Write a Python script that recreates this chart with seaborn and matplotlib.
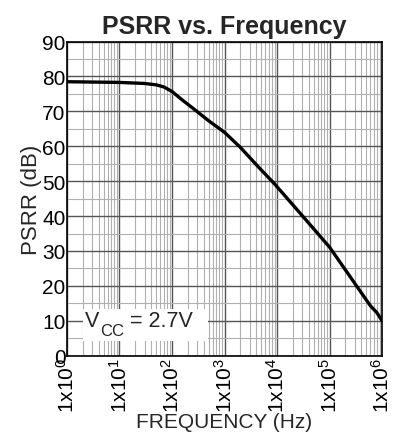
import matplotlib
matplotlib.use("Agg")
import matplotlib.pyplot as plt
import seaborn as sns
import numpy as np
import pandas as pd
from matplotlib.ticker import LogLocator, MultipleLocator

freq_hz = [1, 10, 30, 50, 70, 100, 150, 260, 500, 1000, 2000, 4800, 9000,
           32000, 100000, 300000, 600000, 800000, 1000000]
psrr_db = [78.5, 78.3, 78.0, 77.6, 77.0, 75.7, 73.5, 70.7, 67.3, 64.0, 59.7,
           53.5, 49.2, 39.7, 31.1, 20.8, 14.3, 12.3, 10.0]
x_tick_exponents = [0, 1, 2, 3, 4, 5, 6]
y_ticks = [0, 10, 20, 30, 40, 50, 60, 70, 80, 90]

sns.set_theme(style="white")
plt.rcParams['font.family'] = ['Liberation Sans', 'DejaVu Sans']
plt.rcParams['mathtext.fontset'] = 'custom'
plt.rcParams['mathtext.rm'] = 'Liberation Sans'
plt.rcParams['mathtext.it'] = 'Liberation Sans'

fig = plt.figure(figsize=(4.06, 4.39), dpi=100)
ax = fig.add_axes([0.165, 0.1875, 0.776, 0.7155])

df = pd.DataFrame({"f": freq_hz, "p": psrr_db})
sns.lineplot(data=df, x="f", y="p", ax=ax, color="black", linewidth=2.4, zorder=5)

ax.set_xscale("log")
ax.set_xlim(1, 1e6)
ax.set_ylim(0, 90)
ax.set_xticks([10.0 ** e for e in x_tick_exponents])
ax.set_xticklabels([r"1x10$^{%d}$" % e for e in x_tick_exponents], rotation=90,
                   fontsize=15)
ax.xaxis.set_minor_locator(LogLocator(base=10, subs=np.arange(2, 10), numticks=20))
ax.set_yticks(y_ticks)
ax.set_yticklabels([str(v) for v in y_ticks], fontsize=15)
ax.yaxis.set_minor_locator(MultipleLocator(5))

ax.grid(which="major", color="#555555", linewidth=1.0)
ax.grid(which="minor", color="#b0b0b0", linewidth=0.8)
ax.tick_params(which="both", length=0, pad=1, colors="black")
for s in ax.spines.values():
    s.set_color("black")
    s.set_linewidth(1.2)

ax.set_xlabel("FREQUENCY (Hz)", fontsize=15, labelpad=0)
ax.set_ylabel("PSRR (dB)", fontsize=16, labelpad=0)
ax.set_title("PSRR vs. Frequency", fontsize=18, fontweight="bold", pad=6)

# white box behind the supply-voltage note
ax.axvspan(2.02, 485, ymin=4.2 / 90, ymax=13.4 / 90, facecolor="white",
           edgecolor="none", zorder=4)
ax.text(2.15, 8.5, "V", fontsize=15.5, zorder=6, va="baseline", ha="left")
ax.annotate("CC", xy=(2.15, 8.5), xytext=(11.5, -6.5), textcoords="offset points",
            fontsize=12, zorder=6, va="baseline", ha="left")
ax.annotate("= 2.7V", xy=(2.15, 8.5), xytext=(32.5, 0), textcoords="offset points",
            fontsize=15.5, zorder=6, va="baseline", ha="left")

fig.savefig("out.png", dpi=100)
